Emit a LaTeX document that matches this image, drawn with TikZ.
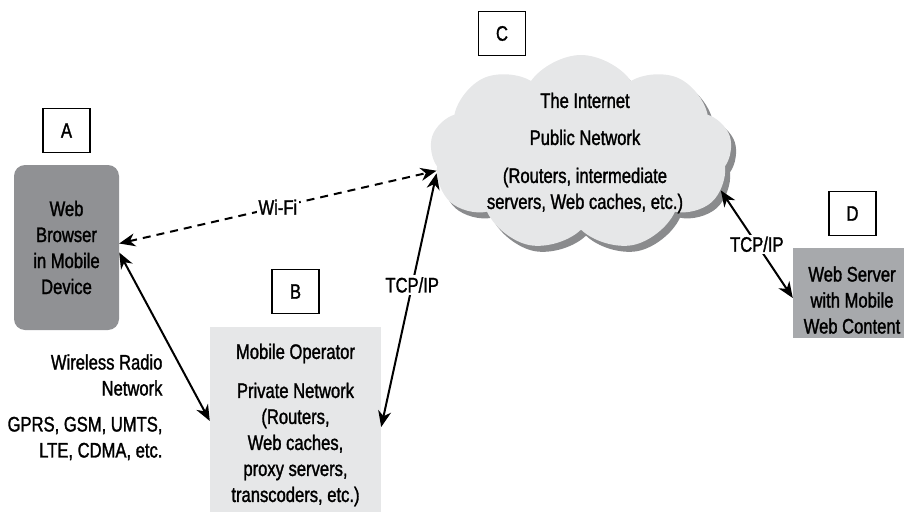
\documentclass[tikz,border=0pt]{standalone}
\usepackage{fontspec}
\setmainfont[FakeStretch=0.79, FakeBold=1.4]{Liberation Sans}
\usetikzlibrary{arrows.meta,shapes.symbols,shadows}
\definecolor{devicegray}{HTML}{909194}
\definecolor{netgray}{HTML}{E6E7E8}
\definecolor{servergray}{HTML}{A7A9AC}
\definecolor{shadowgray}{HTML}{8A8B8D}
\tikzset{tag/.style={draw, line width=1.3pt, minimum width=47pt, minimum height=44pt, inner sep=0pt}}
\tikzset{link/.style={line width=2pt, {Stealth[length=16pt,width=13pt,inset=5pt]}-{Stealth[length=16pt,width=13pt,inset=5pt]}}}
\tikzset{lbl/.style={fill=white, inner sep=2pt}}

\begin{document}
\begin{tikzpicture}[x=1pt, y=-1pt, every node/.style={font=\fontsize{21}{26}\selectfont}]
\useasboundingbox (0,0) rectangle (904,511);

\node[tag] (tagA) at (66.5,130.5) {A};
\node[fill=devicegray, rounded corners=11pt, minimum width=105pt, minimum height=165pt, align=center] (browser) at (66.5,247.5) {Web\\Browser\\in Mobile\\Device};

\node[tag] (tagB) at (295.5,291.5) {B};
\node[fill=netgray, minimum width=171pt, minimum height=188pt] (opnet) at (295.5,421) {};
\node[align=center] (optext) at (295.5,425) {Mobile Operator\\[13pt]Private Network\\(Routers,\\Web caches,\\proxy servers,\\transcoders, etc.)};

\node[tag] (tagC) at (502,33.5) {C};
\node[cloud, cloud puffs=9, cloud puff arc=110, aspect=1.55, fill=netgray, minimum width=302pt, minimum height=196pt,
  drop shadow={shadow xshift=5pt, shadow yshift=-6pt, fill=shadowgray, opacity=1}] (inet) at (581,153) {};
\node[align=center] (inettext) at (585,153) {The Internet\\[11pt]Public Network\\[12pt](Routers, intermediate\\servers, Web caches, etc.)};

\node[tag] (tagD) at (852.5,213.5) {D};
\node[fill=servergray, minimum width=117pt, minimum height=90pt] (server) at (851.5,293) {};
\node[align=center] (servtext) at (852,300) {Web Server\\with Mobile\\Web Content};

\node[align=right, anchor=east] (radio) at (166,375) {Wireless Radio\\Network};
\node[align=right, anchor=east] (radiotypes) at (166,438.5) {GPRS, GSM, UMTS,\\LTE, CDMA, etc.};

\draw[link, dash pattern=on 8pt off 6pt] ([yshift=4pt]browser.east) -- node[lbl]{Wi-Fi} (inet.187);
\draw[link] ([yshift=-5pt]browser.east) -- (opnet.west);
\draw[link] (inet.188) -- node[lbl, pos=0.44]{TCP/IP} ([yshift=-6pt]opnet.east);
\draw[link] (inet.-15) -- node[lbl]{TCP/IP} ([yshift=-5pt]server.west);

\end{tikzpicture}
\end{document}
